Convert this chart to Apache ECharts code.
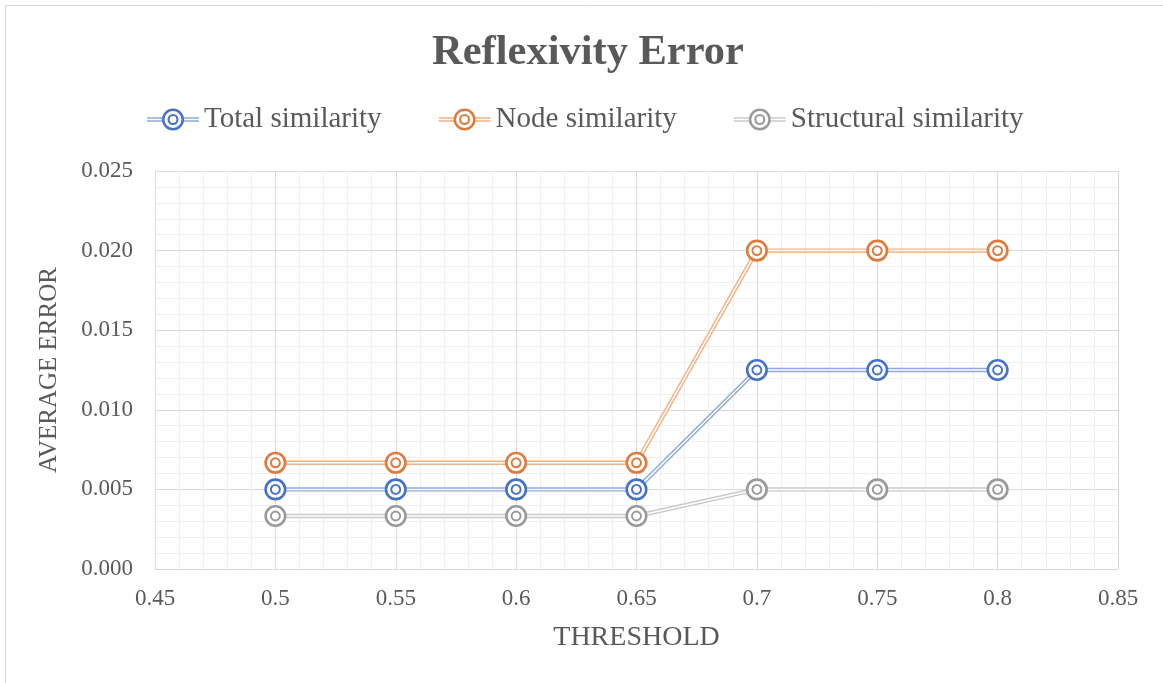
<!DOCTYPE html>
<html>
<head>
<meta charset="utf-8">
<script src="https://cdn.jsdelivr.net/npm/echarts@6/dist/echarts.min.js"></script>
<style>html,body{margin:0;padding:0;background:#fff;}#c{width:1163px;height:683px;}</style>
</head>
<body>
<div id="c"></div>
<script>
// ---- data ----
const thresholds = [0.5, 0.55, 0.6, 0.65, 0.7, 0.75, 0.8];
const seriesNames = ['Total similarity', 'Node similarity', 'Structural similarity'];
const totalSimilarity = [0.005, 0.005, 0.005, 0.005, 0.0125, 0.0125, 0.0125];
const nodeSimilarity = [0.00667, 0.00667, 0.00667, 0.00667, 0.02, 0.02, 0.02];
const structuralSimilarity = [0.00333, 0.00333, 0.00333, 0.00333, 0.005, 0.005, 0.005];
const xTicks = { min: 0.45, max: 0.85, interval: 0.05 };
const yTicks = { min: 0, max: 0.025, interval: 0.005 };

// ---- styles ----
const FONT = '"Liberation Serif", "Times New Roman", serif';
const TXT = '#595959';
const darkColors = ['#4472C4', '#E07A3A', '#9A9A9A'];
const lightColors = ['#8EA9DB', '#F4B183', '#CACACA'];
const values = [totalSimilarity, nodeSimilarity, structuralSimilarity];

const pairs = arr => thresholds.map((t, i) => [t, arr[i]]);

const linesIcon = 'path://M0 8.8h16v1.4h-16z M0 11.8h16v1.4h-16z M36 8.8h16v1.4h-16z M36 11.8h16v1.4h-16z M26 0h0.01v22h-0.01z';
const ringsIcon = 'path://M15 11A11 11 0 1 1 37 11A11 11 0 1 1 15 11Z M17.5 11A8.5 8.5 0 1 0 34.5 11A8.5 8.5 0 1 0 17.5 11Z M20.5 11A5.5 5.5 0 1 1 31.5 11A5.5 5.5 0 1 1 20.5 11Z M22.6 11A3.4 3.4 0 1 0 29.4 11A3.4 3.4 0 1 0 22.6 11Z M0 11h52v0.01h-52z';

const series = [];
values.forEach((arr, k) => {
  const d = pairs(arr);
  series.push({
    name: seriesNames[k], type: 'line', data: d, z: 2,
    showSymbol: false, symbol: 'none',
    lineStyle: { color: lightColors[k], width: 4.4 },
    itemStyle: { color: lightColors[k] },
    silent: true
  });
  series.push({
    name: seriesNames[k], type: 'line', data: d, z: 3,
    symbol: 'circle', symbolSize: 19.5, showSymbol: true,
    lineStyle: { color: '#ffffff', width: 1.5 },
    itemStyle: { color: '#ffffff', borderColor: darkColors[k], borderWidth: 2.6 },
    silent: true
  });
  series.push({
    name: seriesNames[k], type: 'scatter', data: d, z: 4,
    symbol: 'circle', symbolSize: 9,
    itemStyle: { color: '#ffffff', borderColor: darkColors[k], borderWidth: 1.9, opacity: 1 },
    silent: true
  });
});

function legendCfg(icon, colors, textColor) {
  return {
    left: 142, top: 100, orient: 'horizontal',
    itemWidth: 52, itemHeight: 22, itemGap: 57,
    icon: icon,
    textStyle: { fontFamily: FONT, fontSize: 29, color: textColor },
    data: seriesNames.map((n, i) => ({ name: n, icon: icon, itemStyle: { color: colors[i], borderWidth: 0, opacity: 1 } })),
    selectedMode: false
  };
}

const chart = echarts.init(document.getElementById('c'), null, { renderer: 'canvas' });
chart.setOption({
  animation: false,
  backgroundColor: '#ffffff',
  title: {
    text: 'Reflexivity Error', left: 427, top: 27,
    textStyle: { fontFamily: FONT, fontSize: 42.5, fontWeight: 'bold', color: TXT }
  },
  legend: [
    legendCfg(linesIcon, lightColors, TXT),
    legendCfg(ringsIcon, darkColors, 'rgba(0,0,0,0)')
  ],
  graphic: [{
    type: 'rect', silent: true,
    shape: { x: 5.5, y: 5.5, width: 1200, height: 700 },
    style: { fill: 'none', stroke: '#D9D9D9', lineWidth: 1 }
  }],
  grid: { left: 155, right: 45, top: 171, bottom: 114, containLabel: false },
  xAxis: {
    type: 'value', min: xTicks.min, max: xTicks.max, interval: xTicks.interval,
    name: 'THRESHOLD', nameLocation: 'middle', nameGap: 55,
    nameTextStyle: { fontFamily: FONT, fontSize: 28, color: TXT },
    axisLine: { show: true, lineStyle: { color: '#D9D9D9', width: 1 } },
    axisTick: { show: false },
    axisLabel: { fontFamily: FONT, fontSize: 23, color: TXT, margin: 18,
      formatter: v => String(parseFloat(v.toFixed(2))) },
    splitLine: { show: true, lineStyle: { color: '#D9D9D9', width: 1 } },
    minorTick: { show: false, splitNumber: 5 },
    minorSplitLine: { show: true, lineStyle: { color: '#EFEFEF', width: 1 } }
  },
  yAxis: {
    type: 'value', min: yTicks.min, max: yTicks.max, interval: yTicks.interval,
    name: 'AVERAGE ERROR', nameLocation: 'middle', nameGap: 93,
    nameTextStyle: { fontFamily: FONT, fontSize: 25, color: TXT },
    axisLine: { show: true, lineStyle: { color: '#D9D9D9', width: 1 } },
    axisTick: { show: false },
    axisLabel: { fontFamily: FONT, fontSize: 23, color: TXT, margin: 22,
      formatter: v => v.toFixed(3) },
    splitLine: { show: true, lineStyle: { color: '#D9D9D9', width: 1 } },
    minorTick: { show: false, splitNumber: 5 },
    minorSplitLine: { show: true, lineStyle: { color: '#EFEFEF', width: 1 } }
  },
  series: series
});
</script>
</body>
</html>
